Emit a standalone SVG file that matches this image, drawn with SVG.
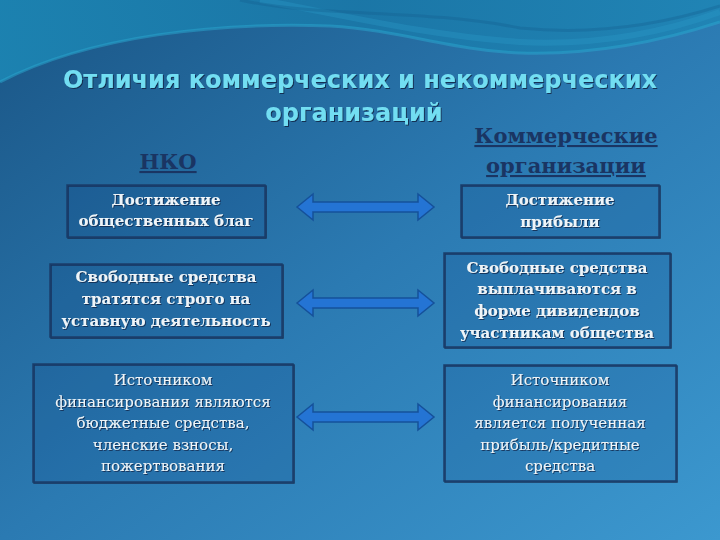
<svg xmlns="http://www.w3.org/2000/svg" width="720" height="540" viewBox="0 0 720 540">
<defs>
<linearGradient id="bg" x1="0" y1="0" x2="1" y2="1">
<stop offset="0" stop-color="#1a5585"/>
<stop offset="0.5" stop-color="#2b7ab2"/>
<stop offset="1" stop-color="#3c98cf"/>
</linearGradient>
<linearGradient id="wave" x1="0" y1="0" x2="1" y2="0">
<stop offset="0" stop-color="#1c86b4"/>
<stop offset="0.5" stop-color="#1a78a8"/>
<stop offset="1" stop-color="#1f85b5"/>
</linearGradient>
<filter id="sh" x="-5%" y="-20%" width="110%" height="140%">
<feDropShadow dx="1" dy="1" stdDeviation="0.6" flood-color="#0a2440" flood-opacity="0.8"/>
</filter>
<path id="arrow" d="M0,0 L16,-13 L16,-5 L121,-5 L121,-13 L137,0 L121,13 L121,5 L16,5 L16,13 Z"/>
</defs>
<style>
.box{fill:#12508a;fill-opacity:0.08;stroke:#183d6b;stroke-width:1.5}
.t{font-family:"DejaVu Serif","Liberation Serif",serif;font-size:15px;fill:#eef4f8;text-anchor:middle}
.b{font-weight:bold}
.h{font-family:"DejaVu Serif","Liberation Serif",serif;font-weight:bold;fill:#1a3563;text-anchor:middle;text-decoration:underline}
.title{font-family:"DejaVu Sans","Open Sans",sans-serif;font-weight:bold;font-size:24px;fill:#72def2;text-anchor:middle}
.arr{fill:#2474d4;stroke:#15519a;stroke-width:1.5}
</style>
<rect width="720" height="540" fill="url(#bg)"/>
<path d="M0,0 H720 V22 C650,45 580,55 520,53 C450,50 400,30 330,26 C220,22 90,35 0,82 Z" fill="url(#wave)" opacity="0.9"/>
<path d="M0,82 C90,35 220,22 330,26 C400,30 450,50 520,53 C580,55 650,45 720,22" fill="none" stroke="#2aa8d0" stroke-width="3" opacity="0.5"/>
<path d="M260,0 C330,12 420,35 520,42 C600,46 670,30 720,12" fill="none" stroke="#2c9cc8" stroke-width="6" opacity="0.35"/>
<path d="M240,0 C320,18 420,8 520,28 C600,36 670,22 720,6" fill="none" stroke="#135f8e" stroke-width="3" opacity="0.35"/>

<g id="title" filter="url(#sh)">
<text class="title" x="360" y="88">Отличия коммерческих и некоммерческих</text>
<text class="title" x="354" y="121">организаций</text>
</g>
<g id="head-nko"><text class="h" x="168" y="169" font-size="21">НКО</text></g>
<g id="head-kom">
<text class="h" x="566" y="143" font-size="21">Коммерческие</text>
<text class="h" x="566" y="173" font-size="21">организации</text>
</g>

<g id="l1" filter="url(#sh)">
<rect class="box" x="67" y="185" width="198" height="52"/>
<text class="t b" x="166" y="205">Достижение</text>
<text class="t b" x="166" y="226">общественных благ</text>
</g>
<g id="r1" filter="url(#sh)">
<rect class="box" x="461" y="185" width="198" height="52"/>
<text class="t b" x="560" y="205">Достижение</text>
<text class="t b" x="560" y="227">прибыли</text>
</g>
<g id="l2" filter="url(#sh)">
<rect class="box" x="50" y="264" width="232" height="73"/>
<text class="t b" x="166" y="282">Свободные средства</text>
<text class="t b" x="166" y="304">тратятся строго на</text>
<text class="t b" x="166" y="326">уставную деятельность</text>
</g>
<g id="r2" filter="url(#sh)">
<rect class="box" x="444" y="253" width="226" height="94"/>
<text class="t b" x="557" y="273">Свободные средства</text>
<text class="t b" x="557" y="294">выплачиваются в</text>
<text class="t b" x="557" y="316">форме дивидендов</text>
<text class="t b" x="557" y="338">участникам общества</text>
</g>
<g id="l3" filter="url(#sh)">
<rect class="box" x="33" y="364" width="260" height="118"/>
<text class="t" x="163" y="385">Источником</text>
<text class="t" x="163" y="407">финансирования являются</text>
<text class="t" x="163" y="428">бюджетные средства,</text>
<text class="t" x="163" y="450">членские взносы,</text>
<text class="t" x="163" y="471">пожертвования</text>
</g>
<g id="r3" filter="url(#sh)">
<rect class="box" x="444" y="365" width="232" height="116"/>
<text class="t" x="560" y="385">Источником</text>
<text class="t" x="560" y="407">финансирования</text>
<text class="t" x="560" y="428">является полученная</text>
<text class="t" x="560" y="450">прибыль/кредитные</text>
<text class="t" x="560" y="471">средства</text>
</g>

<g id="connectors">
<use href="#arrow" class="arr" transform="translate(297,207)"/>
<use href="#arrow" class="arr" transform="translate(297,303)"/>
<use href="#arrow" class="arr" transform="translate(297,417)"/>
</g>
</svg>
